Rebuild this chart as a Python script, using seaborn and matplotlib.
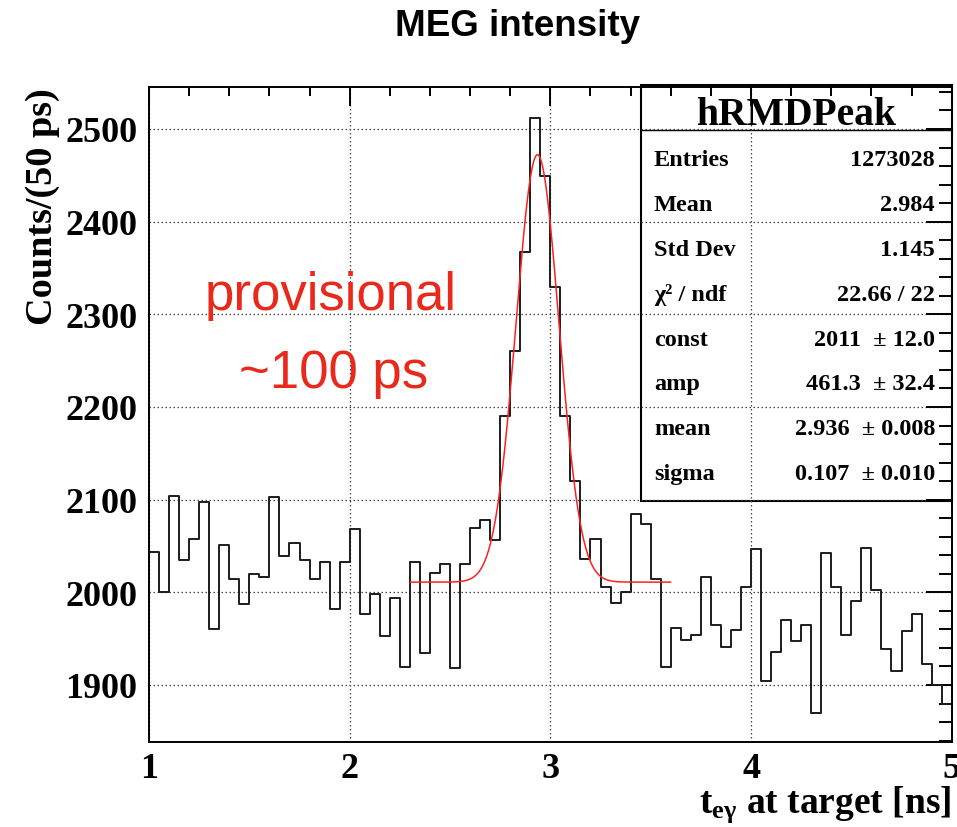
import numpy as np
import pandas as pd
import matplotlib
matplotlib.use("Agg")
import matplotlib.pyplot as plt
import seaborn as sns
from matplotlib.patches import Rectangle
from matplotlib.ticker import MultipleLocator

# ---------------- data ----------------
bin_start = 1.0
bin_width = 0.05
counts = [2044, 2000, 2104, 2035, 2057, 2098, 1960, 2051, 2014, 1987,
          2020, 2017, 2103, 2039, 2053, 2035, 2014, 2033, 1982, 2033,
          2068, 1977, 1998, 1953, 1994, 1919, 2033, 1935, 2021, 2031,
          1918, 2031, 2069, 2078, 2056, 2190, 2260, 2367, 2512, 2449,
          2329, 2190, 2120, 2036, 2058, 2006, 1988, 2000, 2084, 2074,
          2014, 1919, 1961, 1949, 1954, 2016, 1965, 1941, 1959, 2006,
          2047, 1904, 1936, 1970, 1948, 1965, 1870, 2042, 2006, 1954,
          1991, 2048, 2002, 1939, 1915, 1958, 1977, 1923, 1900, 1880]

fit_const = 2011.0
fit_amp = 461.3
fit_mean = 2.936
fit_sigma = 0.107
fit_range = (2.3, 3.6)

stats_title = "hRMDPeak"
stats_labels = ["Entries", "Mean", "Std Dev", "\u03c7\u00b2 / ndf", "const", "amp", "mean", "sigma"]
stats_values = ["1273028", "2.984", "1.145", "22.66 / 22", "2011  \u00b1 12.0",
                "461.3  \u00b1 32.4", "2.936  \u00b1 0.008", "0.107  \u00b1 0.010"]

x_ticks = [1, 2, 3, 4, 5]
y_ticks = [1900, 2000, 2100, 2200, 2300, 2400, 2500]

title = "MEG intensity"
xlabel = r"t$_{e\gamma}$ at target [ns]"
ylabel = "Counts/(50 ps)"
note_lines = ["provisional", "~100 ps"]

# ---------------- style ----------------
sns.set_style("white")
plt.rcParams["font.family"] = ["Liberation Serif", "DejaVu Serif"]
plt.rcParams["mathtext.fontset"] = "custom"
plt.rcParams["mathtext.rm"] = "Liberation Serif:bold"
plt.rcParams["mathtext.it"] = "Liberation Serif:bold"
plt.rcParams["mathtext.bf"] = "Liberation Serif:bold"
plt.rcParams["axes.axisbelow"] = True
for k in ["text.color", "axes.labelcolor", "xtick.color", "ytick.color", "axes.edgecolor"]:
    plt.rcParams[k] = "black"

W, H = 957, 828
fig = plt.figure(figsize=(W / 100, H / 100), dpi=100)
L, R, T, B = 149, 951.7, 88, 742.7
ax = fig.add_axes([L / W, 1 - B / H, (R - L) / W, (B - T) / H])

edges = [round(bin_start + bin_width * k, 4) for k in range(len(counts) + 1)]
centers = [round(e + bin_width / 2, 4) for e in edges[:-1]]
df = pd.DataFrame({"t": centers, "n": counts})

sns.histplot(data=df, x="t", weights="n", bins=edges, element="step", fill=False,
             color="#1c1c1c", linewidth=1.4, ax=ax)

xf = np.linspace(fit_range[0], fit_range[1], 500)
yf = fit_const + fit_amp * np.exp(-0.5 * ((xf - fit_mean) / fit_sigma) ** 2)
sns.lineplot(x=xf, y=yf, color="#ff2020", linewidth=1.1, ax=ax)

ax.set_xlim(1, 5)
ax.set_ylim(1838.8, 2545.3)
ax.set_xticks(x_ticks)
ax.set_yticks(y_ticks)
ax.set_xticklabels([str(v) for v in x_ticks], fontweight="bold")
ax.set_yticklabels([str(v) for v in y_ticks], fontweight="bold")
ax.xaxis.set_minor_locator(MultipleLocator(0.2))
ax.yaxis.set_minor_locator(MultipleLocator(20))
ax.set_xlabel("")
ax.set_ylabel("")

ax.tick_params(which="both", direction="in", top=True, right=True, width=1.4,
               color="black", labelcolor="black")
ax.tick_params(axis="y", which="major", length=18.7, pad=8.5, labelsize=26)
ax.tick_params(axis="y", which="minor", length=9.4)
ax.tick_params(axis="x", which="major", length=13.7, pad=7.5, labelsize=26)
ax.tick_params(axis="x", which="minor", length=6.5)
for s in ax.spines.values():
    s.set_visible(True)
    s.set_linewidth(1.4)
    s.set_color("black")

ax.grid(True, which="major", color="#444444", linestyle=(0, (1.2, 2.0)), linewidth=0.9)

# ---------------- stats box ----------------
def ay(py):
    return (B - py) / (B - T)

def axx(px):
    return (px - L) / (R - L)

bx0 = axx(640.7)
by0 = ay(501.7)
by1 = ay(86)
ax.add_patch(Rectangle((bx0, by0), 1.0 - bx0, by1 - by0, transform=ax.transAxes,
                       facecolor="white", edgecolor="black", linewidth=1.5,
                       zorder=0.4, clip_on=False))
ax.plot([bx0, 1.0], [ay(130.7), ay(130.7)], transform=ax.transAxes, color="black",
        linewidth=1.0, zorder=0.45, clip_on=False)
ax.text((bx0 + 1.0) / 2, ay(125), stats_title, transform=ax.transAxes, ha="center",
        va="baseline", fontsize=28.5, fontweight="bold", zorder=3)
for i, (lab, val) in enumerate(zip(stats_labels, stats_values)):
    yb = ay(166.5 + 44.8 * i)
    ax.text(axx(654), yb, lab, transform=ax.transAxes, ha="left", va="baseline",
            fontsize=17.5, fontweight="bold", zorder=3)
    ax.text(axx(935), yb, val, transform=ax.transAxes, ha="right", va="baseline",
            fontsize=17.5, fontweight="bold", zorder=3)

# ---------------- texts ----------------
fig.text(518 / W, 1 - 27 / H, title, ha="center", va="center", fontsize=26.5,
         fontweight="bold", family=["Liberation Sans", "DejaVu Sans"])
fig.text(43 / W, 1 - 88 / H, ylabel, rotation=90, ha="center", va="top",
         fontsize=27.5, fontweight="bold")
fig.text(R / W, 1 - 813 / H, xlabel, ha="right", va="baseline", fontsize=27,
         fontweight="bold")
red = "#e8291c"
fig.text(331 / W, 1 - 310 / H, note_lines[0], ha="center", va="baseline", fontsize=38,
         color=red, family=["Liberation Sans", "DejaVu Sans"])
fig.text(334 / W, 1 - 388 / H, note_lines[1], ha="center", va="baseline", fontsize=38,
         color=red, family=["Liberation Sans", "DejaVu Sans"])

fig.savefig("out.png", dpi=100)
